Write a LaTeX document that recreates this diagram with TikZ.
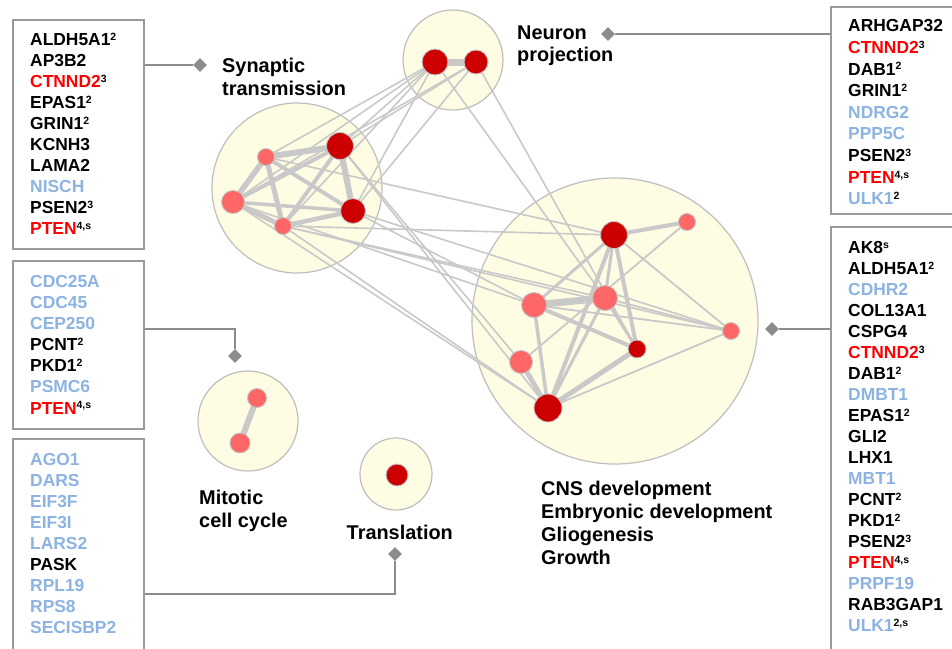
\documentclass[tikz,border=0pt]{standalone}
\usepackage{fontspec}
\setmainfont{Liberation Sans}
\usetikzlibrary{shapes.geometric}
\definecolor{gred}{HTML}{FF0000}
\definecolor{gblue}{HTML}{8DB3E2}
\definecolor{boxgray}{HTML}{9A9A9A}
\definecolor{conngray}{HTML}{8C8C8C}
\definecolor{grpfill}{HTML}{FEFCE3}
\definecolor{grpedge}{HTML}{BEBEBE}
\definecolor{nodedark}{HTML}{CC0000}
\definecolor{nodelight}{HTML}{FF6666}
\definecolor{nodeedge}{HTML}{C4C4C4}
\definecolor{edgecol}{HTML}{C9C9C9}
\newcommand\gsup[1]{\raisebox{5.2pt}{\fontsize{10.5}{10}\selectfont\color{black}#1}}
\newcommand\genred[1]{\textcolor{gred}{#1}}
\newcommand\geneblue[1]{\textcolor{gblue}{#1}}
\tikzset{
  grp/.style={circle, fill=grpfill, draw=grpedge, line width=1.2pt, inner sep=0pt, minimum size=#1},
  dk/.style={circle, fill=nodedark, draw=nodeedge, line width=0.9pt, inner sep=0pt, minimum size=#1},
  lt/.style={circle, fill=nodelight, draw=nodeedge, line width=0.9pt, inner sep=0pt, minimum size=#1},
  lnk/.style={draw=edgecol, line width=#1},
  gbox/.style={draw=boxgray, line width=1.7pt, fill=white, inner sep=0pt, anchor=north west},
  gene/.style={font=\fontsize{17.4}{21}\selectfont\bfseries, inner sep=0pt, anchor=base west},
  lbl/.style={font=\fontsize{19.9}{23}\selectfont\bfseries, inner sep=0pt, anchor=base west},
  diam/.style={diamond, fill=conngray, inner sep=0pt, minimum size=14pt},
  conn/.style={draw=conngray, line width=2pt},
}
\begin{document}
\begin{tikzpicture}[x=1pt, y=-1pt]
\useasboundingbox (0,0) rectangle (952,648);
\clip (0,0) rectangle (952,648);
\fill[white] (0,0) rectangle (952,648);

% group circles
\node[grp=100] (gn) at (453,60) {};
\node[grp=170] (gs) at (297,188) {};
\node[grp=286] (gc) at (615,321) {};
\node[grp=100] (gm) at (248,421) {};
\node[grp=72]  (gt) at (396,474) {};

% node coordinates
\coordinate (pN1) at (435,62);  \coordinate (pN2) at (476,62);
\coordinate (pS1) at (266,157); \coordinate (pS2) at (340,146);
\coordinate (pS3) at (233,202); \coordinate (pS4) at (353,211);
\coordinate (pS5) at (283,226);
\coordinate (pC1) at (614,235); \coordinate (pC2) at (687,222);
\coordinate (pC3) at (534,305); \coordinate (pC4) at (605,298);
\coordinate (pC5) at (637,349); \coordinate (pC6) at (731,331);
\coordinate (pC7) at (521,362); \coordinate (pC8) at (548,408);
\coordinate (pM1) at (257,398); \coordinate (pM2) at (240,443);
\coordinate (pT1) at (397,475);

% edges (drawn first, nodes on top)
\foreach \a/\b in {N1/S1, N1/S3, N1/S5, N1/S2, N1/S4, N2/S3, N2/S4, N2/S2}
  \draw[lnk=1.6] (p\a) -- (p\b);
\draw[lnk=1.6] (pN1) -- (pC4);
\draw[lnk=1.6] (pN2) -- (pC5);
\foreach \a/\b in {S1/C1, S5/C1, S2/C7, S2/C8, S3/C8, S5/C8, S4/C3, S5/C4, S4/C6, S5/C6, S3/C3}
  \draw[lnk=1.6] (p\a) -- (p\b);
\foreach \a/\b/\w in {S1/S2/6, S1/S3/5.5, S1/S5/5, S1/S4/4, S2/S3/4, S2/S4/6, S2/S5/4, S3/S5/5, S3/S4/3.5, S4/S5/4.5}
  \draw[lnk=\w] (p\a) -- (p\b);
\draw[lnk=7] (pN1) -- (pN2);
\foreach \a/\b/\w in {C1/C2/4, C1/C3/3, C1/C4/3, C1/C5/4, C1/C6/1.8, C1/C8/4, C3/C4/7, C3/C5/4, C3/C8/3.5, C3/C6/1.8, C4/C5/3, C4/C8/3, C4/C6/1.8, C7/C8/5, C5/C8/5, C6/C8/1.8, C2/C7/1.8}
  \draw[lnk=\w] (p\a) -- (p\b);
\draw[lnk=6] (pM1) -- (pM2);

% nodes
\node[dk=26] (N1) at (pN1) {};
\node[dk=24] (N2) at (pN2) {};
\node[lt=17] (S1) at (pS1) {};
\node[dk=27] (S2) at (pS2) {};
\node[lt=23] (S3) at (pS3) {};
\node[dk=25] (S4) at (pS4) {};
\node[lt=17] (S5) at (pS5) {};
\node[dk=27] (C1) at (pC1) {};
\node[lt=17] (C2) at (pC2) {};
\node[lt=25] (C3) at (pC3) {};
\node[lt=25] (C4) at (pC4) {};
\node[dk=18] (C5) at (pC5) {};
\node[lt=17] (C6) at (pC6) {};
\node[lt=23] (C7) at (pC7) {};
\node[dk=28] (C8) at (pC8) {};
\node[lt=19] (M1) at (pM1) {};
\node[lt=20] (M2) at (pM2) {};
\node[dk=22] (T1) at (pT1) {};

% labels
\node[lbl] (ls1) at (222,72.5) {Synaptic};
\node[lbl] (ls2) at (222,95) {transmission};
\node[lbl] (ln1) at (517,39.5) {Neuron};
\node[lbl] (ln2) at (517,61.5) {projection};
\node[lbl] (lm1) at (199,504.5) {Mitotic};
\node[lbl] (lm2) at (199,527) {cell cycle};
\node[lbl] (lt1) at (346.5,539.5) {Translation};
\node[lbl] (lc1) at (541,495) {CNS development};
\node[lbl] (lc2) at (541,518) {Embryonic development};
\node[lbl] (lc3) at (541,541) {Gliogenesis};
\node[lbl] (lc4) at (541,564) {Growth};

% boxes
\node[gbox, minimum width=131pt, minimum height=229pt] (b1) at (12,19) {};
\node[gbox, minimum width=131pt, minimum height=168pt] (b2) at (12,260) {};
\node[gbox, minimum width=131pt, minimum height=240pt] (b3) at (12,438) {};
\node[gbox, minimum width=150pt, minimum height=207pt] (b4) at (830,6) {};
\node[gbox, minimum width=150pt, minimum height=450pt] (b5) at (830,226) {};

% diamonds and connectors
\node[diam] (d1) at (200,65) {};
\node[diam] (d2) at (235,356) {};
\node[diam] (d3) at (395,554) {};
\node[diam] (d4) at (608,34) {};
\node[diam] (d5) at (772,329) {};
\coordinate (k2) at (235,329);
\coordinate (k3) at (395,594);
\draw[conn] (b1.east |- d1) -- (d1);
\draw[conn] (b2.east |- k2) -- (k2) -- (d2);
\draw[conn] (b3.east |- k3) -- (k3) -- (d3);
\draw[conn] (b4.west |- d4) -- (d4);
\draw[conn] (b5.west |- d5) -- (d5);

% gene lists
\foreach \t [count=\i] in {{ALDH5A1\gsup{2}}, {AP3B2}, {\genred{CTNND2}\gsup{3}}, {EPAS1\gsup{2}}, {GRIN1\gsup{2}}, {KCNH3}, {LAMA2}, {\geneblue{NISCH}}, {PSEN2\gsup{3}}, {\genred{PTEN}\gsup{4,s}}}
  \node[gene] (ga\i) at (30,{45.5+21.05*(\i-1)}) {\t};
\foreach \t [count=\i] in {{\geneblue{CDC25A}}, {\geneblue{CDC45}}, {\geneblue{CEP250}}, {PCNT\gsup{2}}, {PKD1\gsup{2}}, {\geneblue{PSMC6}}, {\genred{PTEN}\gsup{4,s}}}
  \node[gene] (gb\i) at (30,{287.7+21.05*(\i-1)}) {\t};
\foreach \t [count=\i] in {{\geneblue{AGO1}}, {\geneblue{DARS}}, {\geneblue{EIF3F}}, {\geneblue{EIF3I}}, {\geneblue{LARS2}}, {PASK}, {\geneblue{RPL19}}, {\geneblue{RPS8}}, {\geneblue{SECISBP2}}}
  \node[gene] (gc\i) at (30,{465+21.1*(\i-1)}) {\t};
\foreach \t [count=\i] in {{ARHGAP32}, {\genred{CTNND2}\gsup{3}}, {DAB1\gsup{2}}, {GRIN1\gsup{2}}, {\geneblue{NDRG2}}, {\geneblue{PPP5C}}, {PSEN2\gsup{3}}, {\genred{PTEN}\gsup{4,s}}, {\geneblue{ULK1}\gsup{2}}}
  \node[gene] (gd\i) at (848,{31.7+21.65*(\i-1)}) {\t};
\foreach \t [count=\i] in {{AK8\gsup{s}}, {ALDH5A1\gsup{2}}, {\geneblue{CDHR2}}, {COL13A1}, {CSPG4}, {\genred{CTNND2}\gsup{3}}, {DAB1\gsup{2}}, {\geneblue{DMBT1}}, {EPAS1\gsup{2}}, {GLI2}, {LHX1}, {\geneblue{MBT1}}, {PCNT\gsup{2}}, {PKD1\gsup{2}}, {PSEN2\gsup{3}}, {\genred{PTEN}\gsup{4,s}}, {\geneblue{PRPF19}}, {RAB3GAP1}, {\geneblue{ULK1}\gsup{2,s}}}
  \node[gene] (ge\i) at (848,{253.3+21.02*(\i-1)}) {\t};
\end{tikzpicture}
\end{document}
